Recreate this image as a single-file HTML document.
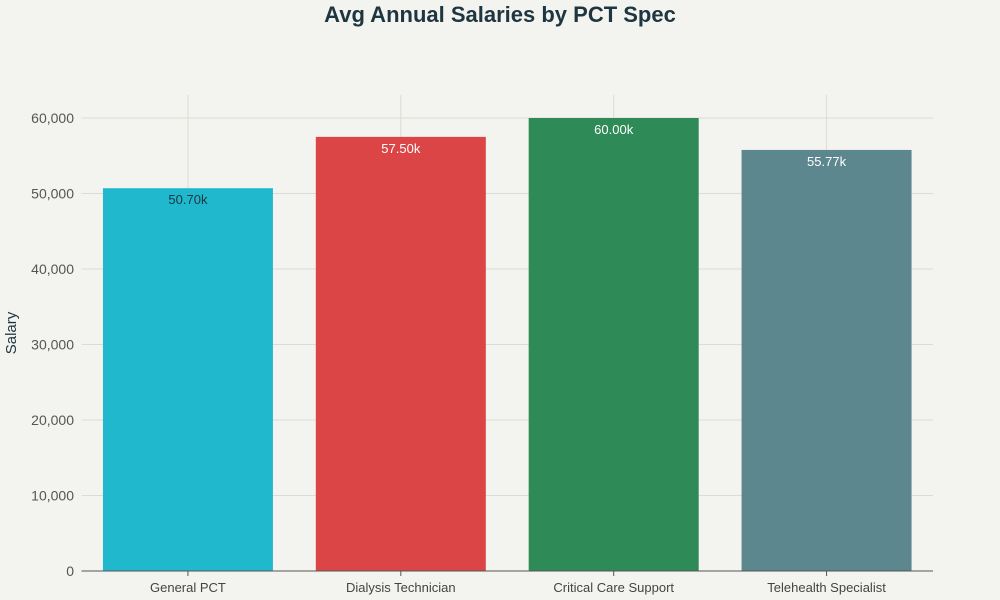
<!DOCTYPE html>
<html><head><meta charset="utf-8"><style>
body{margin:0;background:#f3f3ef;}
svg{display:block;font-family:"Liberation Sans",sans-serif;}
</style></head><body>
<svg id="chart" width="1000" height="600">
<rect width="1000" height="600" fill="#f3f3ef"/>
<text x="500" y="22" text-anchor="middle" font-size="22" font-weight="bold" fill="#1e3640">Avg Annual Salaries by PCT Spec</text>
<text transform="translate(16,333) rotate(-90)" text-anchor="middle" font-size="15" fill="#1e3640">Salary</text>
<g id="grid"></g><g id="bars"></g><g id="labels"></g>
</svg>
<script>
const categories=["General PCT","Dialysis Technician","Critical Care Support","Telehealth Specialist"];
const values=[50700,57500,60000,55770];
const valueLabels=["50.70k","57.50k","60.00k","55.77k"];
const colors=["#1fb8cd","#db4545","#2e8b57","#5d878f"];
const labelColors=["#1e3640","#ffffff","#ffffff","#ffffff"];
const ticks=[0,10000,20000,30000,40000,50000,60000];
const tickLabels=["0","10,000","20,000","30,000","40,000","50,000","60,000"];
const NS="http://www.w3.org/2000/svg";
const x0=81.5,x1=933,y0=571,yPer=453/60000;
const y=v=>y0-v*yPer;
const band=(x1-x0)/categories.length;
const xc=i=>x0+band*(i+0.5);
const bw=170;
function mk(tag,attrs,parent){const e=document.createElementNS(NS,tag);for(const k in attrs)e.setAttribute(k,attrs[k]);document.getElementById(parent).appendChild(e);return e;}
ticks.forEach((t,i)=>{
 if(t>0){const l=mk("line",{x1:x0,x2:x1,y1:y(t),y2:y(t),stroke:"#dcdcd6","stroke-width":1},"grid");
 
 }
 const tx=mk("text",{x:74,y:y(t)+5,"text-anchor":"end","font-size":14,fill:"#555"},"grid");
 tx.textContent=tickLabels[i];
 
 
});
categories.forEach((c,i)=>{
 const g=mk("line",{x1:xc(i),x2:xc(i),y1:95,y2:y0,stroke:"#dcdcd6","stroke-width":1},"grid");
 
 
 const r=mk("rect",{x:xc(i)-bw/2,y:y(values[i]),width:bw,height:y0-y(values[i]),fill:colors[i]},"bars");
 
 
 const v=mk("text",{x:xc(i),y:y(values[i])+16,"text-anchor":"middle","font-size":13,fill:labelColors[i]},"labels");
 v.textContent=valueLabels[i];
 
 
 const tk=mk("line",{x1:xc(i),x2:xc(i),y1:y0,y2:y0+5,stroke:"#555"},"labels");
 
 
 const cl=mk("text",{x:xc(i),y:592,"text-anchor":"middle","font-size":13,fill:"#444"},"labels");
 cl.textContent=c;
 
 
});
const ax=mk("line",{x1:x0,x2:x1,y1:y0,y2:y0,stroke:"#555","stroke-width":1},"labels");


</script>
</body></html>
